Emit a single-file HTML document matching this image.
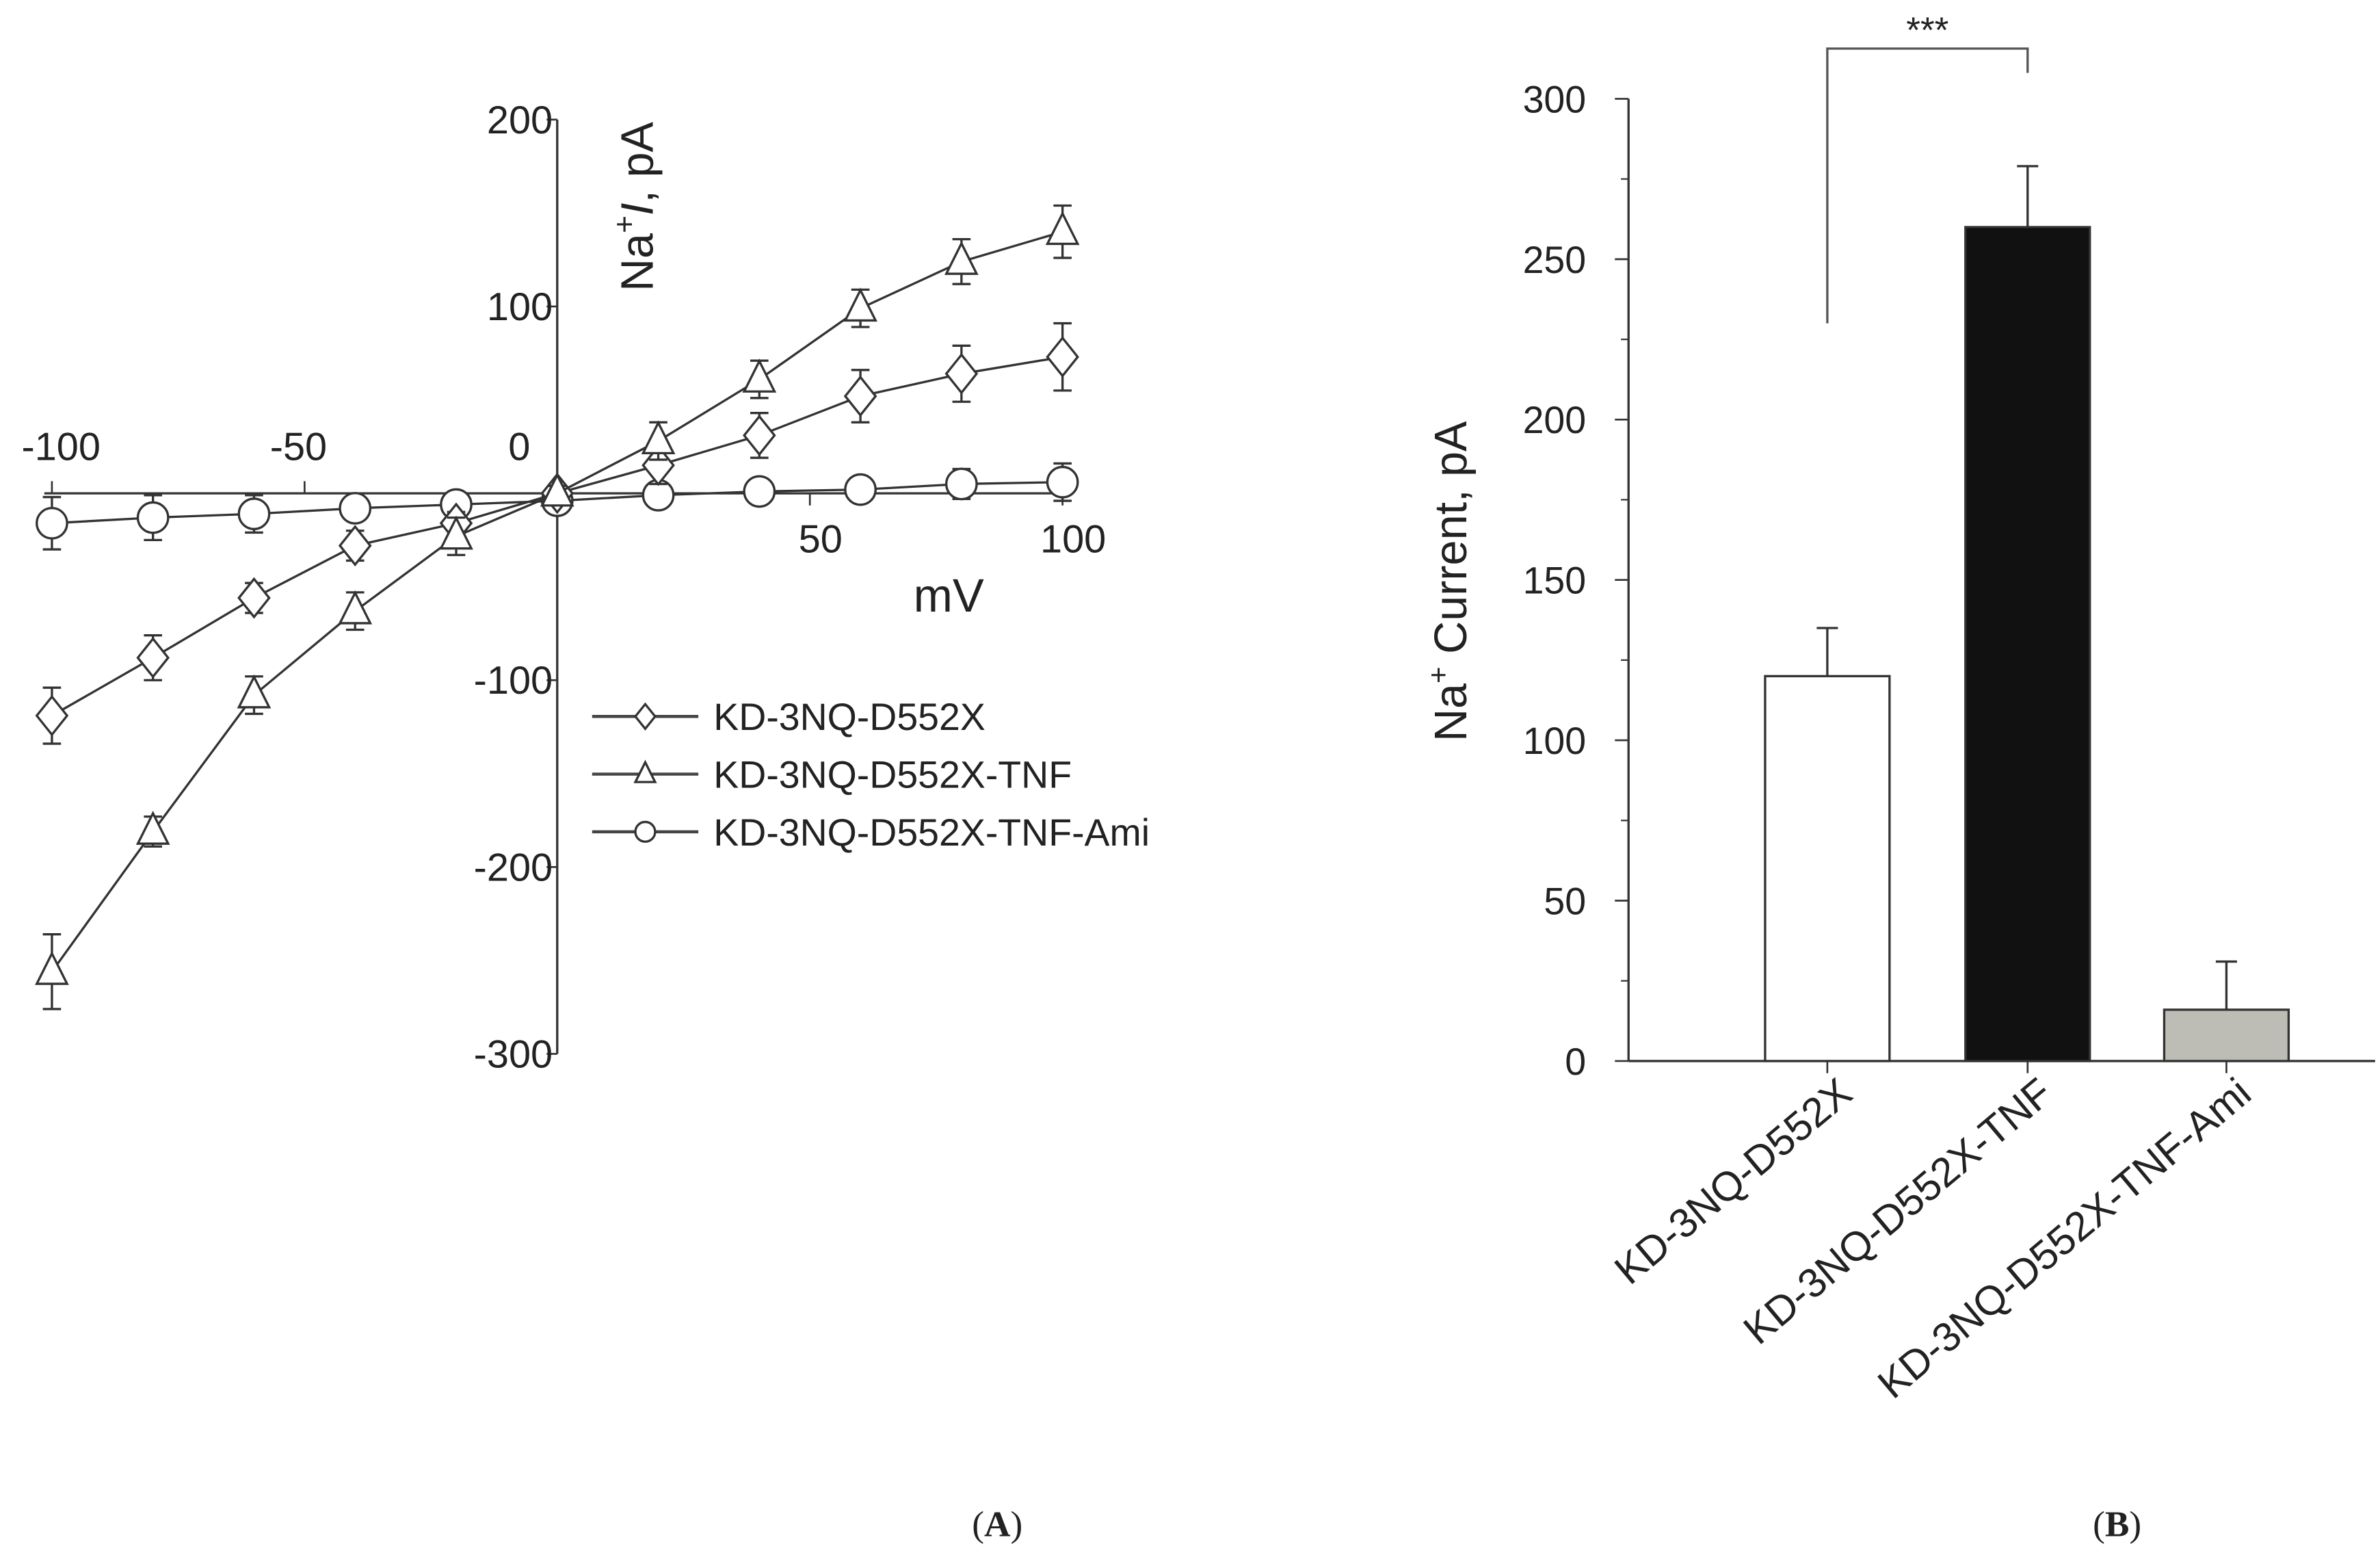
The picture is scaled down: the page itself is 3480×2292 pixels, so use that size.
<!DOCTYPE html>
<html><head><meta charset="utf-8">
<style>
html,body{margin:0;padding:0;background:#fff;}
svg{display:block;}
text{font-family:"Liberation Sans",Arial,sans-serif;fill:#222;}
</style></head>
<body>
<svg id="fig" width="3480" height="2292" viewBox="0 0 1568 1033" xmlns="http://www.w3.org/2000/svg">
<g id="panelA"></g>
<g id="panelB"></g>
<text x="657" y="1012" font-size="24" text-anchor="middle" style="font-family:'Liberation Serif',serif">(<tspan font-weight="bold">A</tspan>)</text>
<text x="1395" y="1012" font-size="24" text-anchor="middle" style="font-family:'Liberation Serif',serif">(<tspan font-weight="bold">B</tspan>)</text>
</svg>
<script>
// ---------- Panel A data ----------
const voltages = [-100,-80,-60,-40,-20,0,20,40,60,80,100];
const diamondVals = [-119,-88,-56,-28,-16,0,15,31,52,64,73];
const diamondErr = [15,12,8,8,6,3,10,12,14,15,18];
const triangleVals = [-256,-181,-108,-63,-23,0,28,61,99,124,140];
const triangleErr = [20,8,10,10,10,4,10,10,10,12,14];
const circleVals = [-16,-13,-11,-8,-6,-4,-1,1,2,5,6];
const circleErr = [14,12,10,6,5,4,4,4,4,8,10];
const xTicks = [-100,-50,0,50,100];
const yTicks = [200,100,0,-100,-200,-300];
const seriesNames = ["KD-3NQ-D552X","KD-3NQ-D552X-TNF","KD-3NQ-D552X-TNF-Ami"];
// ---------- Panel B data ----------
const barCategories = ["KD-3NQ-D552X","KD-3NQ-D552X-TNF","KD-3NQ-D552X-TNF-Ami"];
const barValues = [120,260,16];
const barErrors = [15,19,15];
const barTicks = [0,50,100,150,200,250,300];

const NS="http://www.w3.org/2000/svg";
function mk(parent,tag,attrs,txt){const e=document.createElementNS(NS,tag);for(const k in attrs)e.setAttribute(k,attrs[k]);if(txt!==undefined)e.textContent=txt;parent.appendChild(e);return e;}

// Panel A axes
const A=document.getElementById('panelA');
const ax=v=>367+v*3.33;
const ay=v=>325-v*1.231;
let l;
l=mk(A,'line',{x1:ax(-100)-5,y1:ay(0),x2:ax(100),y2:ay(0),stroke:'#333','stroke-width':1.5});


l=mk(A,'line',{x1:367,y1:ay(200),x2:367,y2:ay(-300),stroke:'#333','stroke-width':1.5});


xTicks.forEach(v=>{
  mk(A,'line',{x1:ax(v),y1:ay(0),x2:ax(v),y2:ay(0)+(v<0?-8:8),stroke:'#333','stroke-width':1.2});
  const below=v>0;
  const t=mk(A,'text',{x:v===0?342:ax(v)+(v===-100?6:v===-50?-4:7),y:below?364:303,'font-size':26,'text-anchor':'middle'},String(v));
  
  
});
yTicks.forEach(v=>{
  if(v===0)return;
  mk(A,'line',{x1:360,y1:ay(v),x2:367,y2:ay(v),stroke:'#333','stroke-width':1.2});
  const t=mk(A,'text',{x:364,y:ay(v)+9,'font-size':26,'text-anchor':'end'},String(v));
  
  
});
let t=mk(A,'text',{x:0,y:0,'font-size':30,transform:'translate(430,192) rotate(-90)'});
t.innerHTML='Na<tspan dy="-12" font-size="20">+</tspan><tspan dy="12" font-style="italic">I</tspan>, pA';


t=mk(A,'text',{x:625,y:403,'font-size':31,'text-anchor':'middle'},'mV');



function marker(g,kind,x,y,r){
  if(kind===0) return mk(g,'polygon',{points:`${x},${y-r*1.25} ${x+r},${y} ${x},${y+r*1.25} ${x-r},${y}`,fill:'#fff',stroke:'#333','stroke-width':1.5});
  if(kind===1) return mk(g,'polygon',{points:`${x},${y-r*1.2} ${x+r},${y+r*0.8} ${x-r},${y+r*0.8}`,fill:'#fff',stroke:'#333','stroke-width':1.5});
  return mk(g,'circle',{cx:x,cy:y,r:r,fill:'#fff',stroke:'#333','stroke-width':1.5});
}
const allVals=[diamondVals,triangleVals,circleVals];
const allErr=[diamondErr,triangleErr,circleErr];
const sNames=['diamond-series','triangle-series','circle-series'];
[2,0,1].forEach(si=>{
  const g=mk(A,'g',{});
  
  
  const vals=allVals[si],err=allErr[si];
  const pts=voltages.map((v,i)=>ax(v)+','+ay(vals[i])).join(' ');
  mk(g,'polyline',{points:pts,fill:'none',stroke:'#333','stroke-width':1.5});
  voltages.forEach((v,i)=>{
    const x=ax(v),y1=ay(vals[i]+err[i]),y2=ay(vals[i]-err[i]);
    mk(g,'line',{x1:x,y1:y1,x2:x,y2:y2,stroke:'#333','stroke-width':1.5});
    mk(g,'line',{x1:x-6,y1:y1,x2:x+6,y2:y1,stroke:'#333','stroke-width':1.5});
    mk(g,'line',{x1:x-6,y1:y2,x2:x+6,y2:y2,stroke:'#333','stroke-width':1.5});
    const m=marker(g,si,x,ay(vals[i]),10);
    
    
  });
});
// legend
seriesNames.forEach((n,i)=>{
  const y=472+i*38;
  const g=mk(A,'g',{});
  
  
  mk(g,'line',{x1:390,y1:y,x2:460,y2:y,stroke:'#444','stroke-width':2});
  marker(g,i,425,y,6.5);
  mk(g,'text',{x:470,y:y+9,'font-size':25},n);
});

// Panel B
const B=document.getElementById('panelB');
const by=v=>699-v*2.113;
const barX=[1204,1336,1467];
const bw=82;
const fills=['#ffffff','#111111','#bdbdb6'];
l=mk(B,'line',{x1:1073,y1:by(300),x2:1073,y2:by(0),stroke:'#333','stroke-width':1.5});


l=mk(B,'line',{x1:1073,y1:by(0),x2:1565,y2:by(0),stroke:'#333','stroke-width':1.5});


barTicks.forEach(v=>{
  mk(B,'line',{x1:1064,y1:by(v),x2:1073,y2:by(v),stroke:'#333','stroke-width':1.2});
  const tt=mk(B,'text',{x:1045,y:by(v)+9,'font-size':25,'text-anchor':'end'},String(v));
  
  
});
[25,75,125,175,225,275].forEach(v=>mk(B,'line',{x1:1068,y1:by(v),x2:1073,y2:by(v),stroke:'#333','stroke-width':1}));
t=mk(B,'text',{x:0,y:0,'font-size':30,'text-anchor':'middle',transform:'translate(966,383) rotate(-90)'});
t.innerHTML='Na<tspan dy="-12" font-size="19">+</tspan><tspan dy="12"> Current, pA</tspan>';


barCategories.forEach((c,i)=>{
  const x=barX[i];
  mk(B,'line',{x1:x,y1:by(barValues[i]),x2:x,y2:by(barValues[i]+barErrors[i]),stroke:'#333','stroke-width':1.5});
  mk(B,'line',{x1:x-7,y1:by(barValues[i]+barErrors[i]),x2:x+7,y2:by(barValues[i]+barErrors[i]),stroke:'#333','stroke-width':1.5});
  const r=mk(B,'rect',{x:x-bw/2,y:by(barValues[i]),width:bw,height:by(0)-by(barValues[i]),fill:fills[i],stroke:'#333','stroke-width':1.5});
  
  
  mk(B,'line',{x1:x,y1:by(0),x2:x,y2:by(0)+8,stroke:'#333','stroke-width':1.2});
  const tt=mk(B,'text',{x:0,y:0,'font-size':27,'text-anchor':'end',transform:`translate(${x+18},${by(0)+24}) rotate(-40)`},c);
  
  
});
const br=mk(B,'polyline',{points:`${barX[0]},${by(230)} ${barX[0]},32 ${barX[1]},32 ${barX[1]},48`,fill:'none',stroke:'#555','stroke-width':1.5});


t=mk(B,'text',{x:1270,y:28,'font-size':24,'text-anchor':'middle'},'***');


</script>
</body></html>
